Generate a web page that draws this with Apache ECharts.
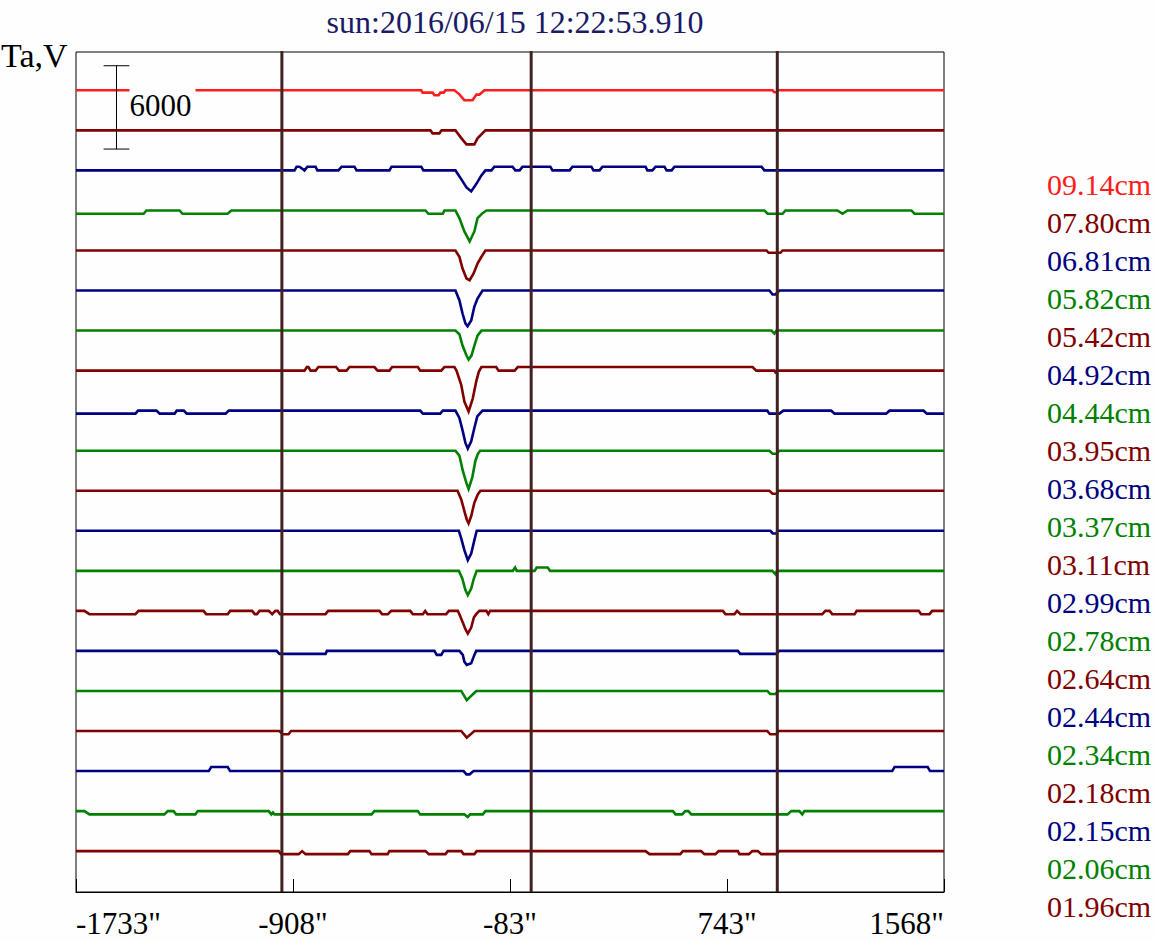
<!DOCTYPE html>
<html>
<head>
<meta charset="utf-8">
<script src="https://cdn.jsdelivr.net/npm/echarts@6/dist/echarts.min.js"></script>
<style>
html,body{margin:0;padding:0;background:#fdfefd;}
#chart{width:1155px;height:941px;}
</style>
</head>
<body>
<div id="chart"></div>
<script>
// ---- data (x: arcsec, y: Ta deviation from each trace's baseline) ----
const titleText = 'sun:2016/06/15 12:22:53.910';
const yName = 'Ta,V';
const wavelengths = ['09.14cm','07.80cm','06.81cm','05.82cm','05.42cm','04.92cm','04.44cm','03.95cm','03.68cm','03.37cm',
                     '03.11cm','02.99cm','02.78cm','02.64cm','02.44cm','02.34cm','02.18cm','02.15cm','02.06cm','01.96cm'];
const xTicks = [-1733, -908, -83, 743, 1568];
const limbLines = [-950, -2, 934];
const scaleBarValue = 6000;

const ch0914 = [[-1733,0],[-420,0],[-415,-166],[-377,-166],[-370,-360],[-354,-360],[-347,-166],[-335,-166],[-328,0],[-294,0],[-275,-288],[-256,-720],[-225,-720],[-210,-310],[-199,-310],[-180,0],[916,0],[923,-144],[931,-144],[935,0],[1568,0]];
const ch0780 = [[-1733,0],[-385,0],[-377,-216],[-351,-216],[-343,0],[-290,0],[-267,-576],[-248,-1008],[-218,-1008],[-206,-576],[-176,0],[1568,0]];
const ch0681 = [[-1733,0],[-902,0],[-894,266],[-883,266],[-864,0],[-853,266],[-822,266],[-815,0],[-735,0],[-723,266],[-674,266],[-666,0],[-541,0],[-533,266],[-420,266],[-412,0],[-290,0],[-268,-626],[-248,-1224],[-230,-1512],[-211,-986],[-192,-382],[-176,0],[-153,0],[-142,266],[-73,266],[-62,0],[-46,0],[-35,266],[71,266],[79,0],[144,0],[155,266],[227,266],[235,0],[258,0],[269,266],[433,266],[440,0],[459,0],[471,266],[505,266],[513,0],[532,0],[543,266],[874,266],[885,0],[1568,0]];
const ch0582 = [[-1733,-238],[-1476,-238],[-1465,0],[-1339,0],[-1328,-238],[-1157,-238],[-1142,0],[-404,0],[-393,-238],[-338,-238],[-332,0],[-290,0],[-275,-554],[-256,-1512],[-236,-2232],[-218,-1512],[-206,-554],[-187,-194],[-172,0],[885,0],[897,-238],[954,-238],[965,0],[1163,0],[1182,-238],[1201,0],[1444,0],[1456,-238],[1568,-238]];
const ch0542 = [[-1733,0],[-290,0],[-275,-454],[-263,-1296],[-248,-2016],[-236,-2138],[-221,-1656],[-206,-936],[-191,-454],[-176,0],[893,0],[901,-166],[946,-166],[954,0],[1568,0]];
const ch0492 = [[-1733,0],[-290,0],[-275,-698],[-263,-1656],[-252,-2376],[-244,-2570],[-230,-2160],[-218,-1152],[-206,-576],[-187,0],[904,0],[916,-288],[927,-288],[942,0],[1568,0]];
const ch0444 = [[-1733,0],[-290,0],[-275,-266],[-263,-1080],[-248,-1800],[-240,-2088],[-229,-1800],[-218,-1080],[-206,-360],[-191,0],[912,0],[923,-216],[931,0],[1568,0]];
const ch0395 = [[-1733,0],[-864,0],[-855,259],[-849,259],[-841,0],[-822,0],[-811,259],[-744,259],[-733,0],[-704,0],[-693,259],[-598,259],[-586,0],[-541,0],[-531,259],[-433,259],[-424,0],[-344,0],[-332,259],[-294,259],[-286,0],[-268,-1030],[-256,-2232],[-240,-2952],[-224,-1994],[-211,-792],[-201,-72],[-191,259],[-135,259],[-126,0],[-65,0],[-53,259],[840,259],[854,0],[923,0],[927,-122],[935,0],[1568,0]];
const ch0368 = [[-1733,-216],[-1507,-216],[-1497,0],[-1427,0],[-1415,-216],[-1358,-216],[-1350,0],[-1323,0],[-1312,-216],[-1164,-216],[-1152,0],[-424,0],[-414,-216],[-348,-216],[-338,0],[-290,0],[-275,-526],[-262,-1490],[-252,-2326],[-243,-2736],[-230,-2210],[-218,-1246],[-207,-410],[-187,0],[896,0],[904,-216],[942,-216],[957,0],[1139,0],[1152,-216],[1348,-216],[1361,0],[1490,0],[1503,-216],[1568,-216]];
const ch0337 = [[-1733,0],[-290,0],[-275,-360],[-262,-1440],[-249,-2282],[-240,-2758],[-226,-1922],[-214,-720],[-205,-238],[-196,0],[904,0],[916,-216],[931,-216],[942,0],[1568,0]];
const ch0311 = [[-1733,0],[-282,0],[-268,-626],[-256,-1462],[-247,-2066],[-240,-2354],[-230,-1822],[-218,-864],[-205,-266],[-195,0],[904,0],[916,-216],[931,-216],[939,0],[1568,0]];
const ch0299 = [[-1733,0],[-277,0],[-268,-554],[-256,-1390],[-243,-2110],[-230,-1634],[-218,-670],[-209,0],[908,0],[917,-194],[931,-194],[935,0],[1568,0]];
const ch0278 = [[-1733,0],[-277,0],[-264,-554],[-252,-1390],[-243,-1750],[-230,-1274],[-220,-554],[-209,0],[-72,0],[-63,238],[-57,0],[11,0],[19,238],[61,238],[70,0],[915,0],[927,-238],[933,0],[1568,0]];
const ch0264 = [[-1733,0],[-1701,0],[-1682,-238],[-1507,-238],[-1495,0],[-1248,0],[-1238,-238],[-1156,-238],[-1147,0],[-1063,0],[-1053,-238],[-1045,-238],[-1035,0],[-1000,0],[-987,-238],[-975,0],[-966,0],[-957,-238],[-784,-238],[-774,0],[-579,0],[-569,-238],[-547,-238],[-534,0],[-462,0],[-452,-238],[-414,-238],[-405,0],[-396,-238],[-325,-238],[-315,0],[-281,0],[-275,-238],[-262,-842],[-252,-1320],[-243,-1634],[-230,-1200],[-220,-480],[-211,-238],[-199,0],[-172,0],[-165,-238],[-158,0],[727,0],[737,-238],[771,-238],[781,0],[794,-238],[1105,-238],[1117,0],[1133,0],[1143,-238],[1228,-238],[1236,0],[1472,0],[1481,-238],[1513,-238],[1523,0],[1568,0]];
const ch0244 = [[-1733,0],[-970,0],[-959,-216],[-784,-216],[-779,0],[-370,0],[-361,-288],[-344,-288],[-335,0],[-275,0],[-262,-288],[-256,-770],[-247,-1008],[-230,-886],[-218,-288],[-211,0],[784,0],[793,-216],[930,-216],[942,0],[1568,0]];
const ch0234 = [[-1733,0],[-268,0],[-247,-670],[-211,0],[896,0],[907,-216],[927,-216],[939,0],[1568,0]];
const ch0218 = [[-1733,0],[-959,0],[-947,-238],[-925,-238],[-915,0],[-268,0],[-247,-482],[-218,0],[896,0],[907,-238],[930,-238],[939,0],[1568,0]];
const ch0215 = [[-1733,0],[-1228,0],[-1219,288],[-1156,288],[-1147,0],[-259,0],[-248,-238],[-236,-238],[-221,0],[1371,0],[1380,288],[1506,288],[1515,0],[1568,0]];
const ch0206 = [[-1733,0],[-1701,0],[-1682,-238],[-1397,-238],[-1384,0],[-1362,0],[-1352,-238],[-1279,-238],[-1270,0],[-1000,0],[-990,-238],[-984,-100],[-978,-238],[-609,-238],[-598,0],[-433,0],[-424,-238],[-256,-238],[-243,-430],[-234,-238],[-186,-238],[-176,0],[537,0],[547,-238],[572,-238],[584,0],[596,0],[607,-238],[973,-238],[987,0],[1018,0],[1029,-238],[1037,0],[1568,0]];
const ch0196 = [[-1733,0],[-962,0],[-953,-216],[-886,-216],[-873,0],[-860,-216],[-699,-216],[-690,0],[-617,0],[-609,-216],[-548,-216],[-541,0],[-404,0],[-391,-216],[-328,-216],[-319,0],[-268,0],[-259,-216],[-218,-216],[-209,0],[433,0],[448,-216],[565,-216],[575,0],[644,0],[657,-216],[699,-216],[711,0],[784,0],[790,-216],[826,-216],[839,0],[860,0],[873,-216],[930,-216],[942,0],[1568,0]];

const traces = [ch0914,ch0780,ch0681,ch0582,ch0542,ch0492,ch0444,ch0395,ch0368,ch0337,
                ch0311,ch0299,ch0278,ch0264,ch0244,ch0234,ch0218,ch0215,ch0206,ch0196];

// ---- layout / style ----
const Y_MAX = 60500;
const TRACE_TOP = 57740;
const TRACE_STEP = 2884;
const SCALE_X = -1579, SCALE_TOP = 59510, SCALE_CAP = 49;
const palette = ['#ff1c1c','#800000','#000080','#008000'];
const colorOf = i => i === 0 ? palette[0] : palette[1 + ((i - 1) % 3)];
const SERIF = "'Liberation Serif','Times New Roman',serif";

const lineSeries = traces.map((tr, i) => {
  const off = TRACE_TOP - i * TRACE_STEP;
  return {
    name: wavelengths[i], type: 'line', showSymbol: false, symbol: 'none',
    silent: true, animation: false, z: 3,
    lineStyle: { color: colorOf(i), width: 2.6, join: 'miter' },
    itemStyle: { color: colorOf(i) },
    data: tr.map(p => [p[0], p[1] + off])
  };
});

const limbSeries = {
  type: 'custom', silent: true, animation: false, z: 5,
  data: limbLines.map(v => [v]),
  renderItem: (params, api) => {
    const a = api.coord([api.value(0), Y_MAX]);
    const b = api.coord([api.value(0), 0]);
    return { type: 'line', shape: { x1: a[0], y1: a[1] - 1, x2: b[0], y2: b[1] },
             style: { stroke: '#432121', lineWidth: 3 } };
  }
};

const scaleSeries = {
  type: 'custom', silent: true, animation: false, z: 10,
  data: [[SCALE_X, SCALE_TOP]],
  renderItem: (params, api) => {
    const t = api.coord([SCALE_X, SCALE_TOP]);
    const b = api.coord([SCALE_X, SCALE_TOP - scaleBarValue]);
    const tl = api.coord([SCALE_X - SCALE_CAP, SCALE_TOP]);
    const tr = api.coord([SCALE_X + SCALE_CAP, SCALE_TOP]);
    const bl = api.coord([SCALE_X - SCALE_CAP, SCALE_TOP - scaleBarValue]);
    const br = api.coord([SCALE_X + SCALE_CAP, SCALE_TOP - scaleBarValue]);
    const st = { stroke: '#000', lineWidth: 1 };
    return { type: 'group', children: [
      { type: 'line', shape: { x1: t[0], y1: t[1], x2: b[0], y2: b[1] }, style: st },
      { type: 'line', shape: { x1: tl[0], y1: tl[1], x2: tr[0], y2: tr[1] }, style: st },
      { type: 'line', shape: { x1: bl[0], y1: bl[1], x2: br[0], y2: br[1] }, style: st },
      { type: 'text', x: t[0] + 13, y: (t[1] + b[1]) / 2 - 2,
        style: { text: String(scaleBarValue), font: '31px ' + SERIF, fill: '#000',
                 align: 'left', verticalAlign: 'middle',
                 backgroundColor: '#fdfefd', padding: [5, 4, 1, 0] } }
    ]};
  }
};

const chart = echarts.init(document.getElementById('chart'), null, { renderer: 'svg' });
chart.setOption({
  backgroundColor: '#fdfefd',
  animation: false,
  title: {
    text: titleText, left: 510, top: 1, textAlign: 'center',
    textStyle: { color: '#1a1a66', fontFamily: SERIF, fontSize: 32, fontWeight: 'normal' }
  },
  legend: {
    orient: 'vertical', left: 1037, top: 161, itemGap: 0,
    itemWidth: 0, itemHeight: 0, selectedMode: false,
    textStyle: { fontFamily: SERIF, fontSize: 30, lineHeight: 37.95 },
    data: wavelengths.map((n, i) => ({ name: n, icon: 'rect', itemStyle: { opacity: 0 },
                                        textStyle: { color: colorOf(i), fontFamily: SERIF, fontSize: 30, lineHeight: 37.95 } }))
  },
  graphic: [{
    type: 'text', left: 1, top: 38,
    style: { text: yName, font: '34px ' + SERIF, fill: '#000' }
  }],
  grid: { left: 76, top: 52, width: 868, height: 840, show: true, borderColor: '#000', borderWidth: 1, backgroundColor: 'transparent' },
  xAxis: {
    type: 'value', min: xTicks[0], max: xTicks[xTicks.length - 1],
    axisLine: { show: true, lineStyle: { color: '#000', width: 1 } },
    axisTick: { show: true, inside: true, length: 13, lineStyle: { color: '#000', width: 1 }, customValues: xTicks },
    axisLabel: { show: true, customValues: xTicks, formatter: v => v + '"', margin: 16,
                 fontFamily: SERIF, fontSize: 31, color: '#000',
                 alignMinLabel: 'left', alignMaxLabel: 'right' },
    splitLine: { show: false }
  },
  yAxis: {
    type: 'value', min: 0, max: Y_MAX,
    axisLine: { show: true, lineStyle: { color: '#000', width: 1 } },
    axisTick: { show: false }, axisLabel: { show: false }, splitLine: { show: false }
  },
  series: [...lineSeries, limbSeries, scaleSeries]
});
</script>
</body>
</html>
